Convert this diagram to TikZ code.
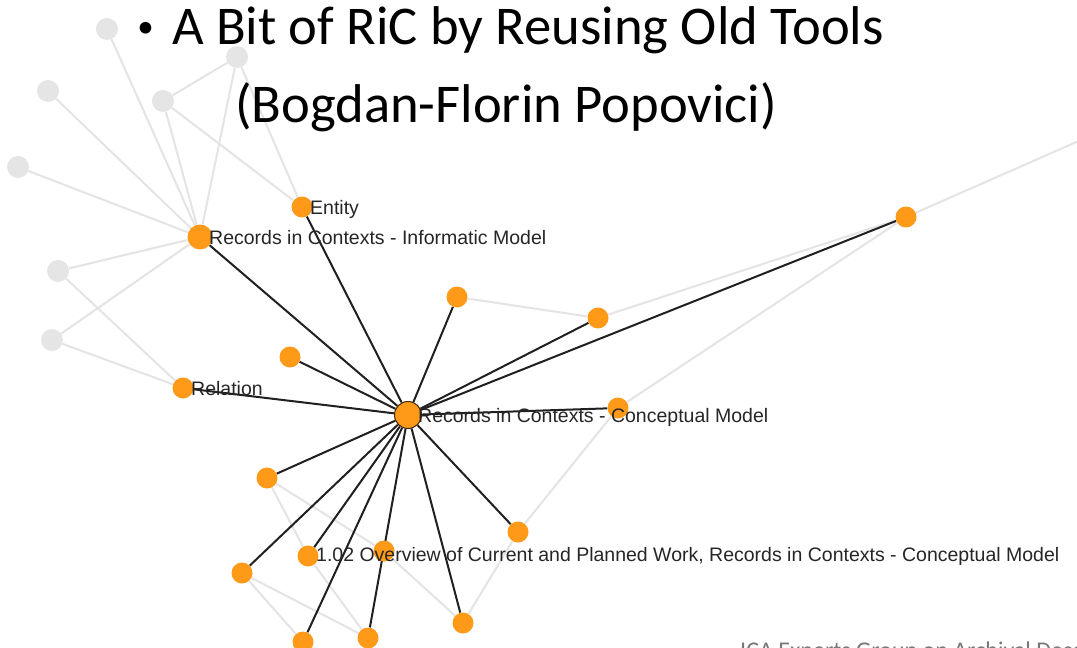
\documentclass[tikz,border=0pt]{standalone}
\usepackage{fontspec}
\setmainfont{Liberation Sans}
\newfontfamily\slidefont{Carlito}
\usetikzlibrary{positioning}

\definecolor{nodeorange}{RGB}{255,153,24}
\definecolor{ghostgrey}{RGB}{229,229,229}
\definecolor{tiegrey}{RGB}{228,228,228}
\definecolor{linkblack}{RGB}{32,32,32}
\definecolor{footgrey}{RGB}{120,120,120}

\pgfdeclarelayer{bg}
\pgfdeclarelayer{edges}
\pgfsetlayers{bg,edges,main}

\begin{document}
\begin{tikzpicture}[x=1pt, y=-1pt,
    doc/.style={circle, fill=nodeorange, inner sep=0pt, minimum size=21pt},
    ghost/.style={circle, fill=ghostgrey, inner sep=0pt, minimum size=22pt},
    tie/.style={draw=tiegrey, line width=2pt},
    link/.style={draw=linkblack, line width=2pt},
    lbl/.style={anchor=base west, inner sep=0pt, text=black!85, font=\fontsize{19.5}{22}\selectfont},
    slide/.style={inner sep=0pt, font=\slidefont\fontsize{54.6}{64}\selectfont}]
  \useasboundingbox (0,0) rectangle (1077,648);
  \begin{pgfonlayer}{bg}
    \fill[white] (0,0) rectangle (1077,648);
  \end{pgfonlayer}

  % Nodes
  \node (g1) [ghost] at (107,29) {};
  \node (g2) [ghost] at (237,57) {};
  \node (g3) [ghost] at (48,91) {};
  \node (g4) [ghost] at (163,101) {};
  \node (g5) [ghost] at (18,167) {};
  \node (g6) [ghost] at (58,271) {};
  \node (g7) [ghost] at (52,340) {};

  \node (informatic) [doc, minimum size=25pt] at (200,237) {};
  \node (entity) [doc] at (302,207) {};
  \node (relation) [doc] at (183,388) {};
  \node (n1) [doc] at (290,357) {};
  \node (n2) [doc] at (457,297) {};
  \node (n3) [doc] at (598,318) {};
  \node (n4) [doc] at (906,217) {};
  \node (n5) [doc] at (618,408) {};
  \node (n6) [doc] at (267,478) {};
  \node (n7) [doc] at (518,532) {};
  \node (n8) [doc] at (242,573) {};
  \node (overview) [doc] at (308,556) {};
  \node (n10) [doc] at (384,551) {};
  \node (n11) [doc] at (303,642) {};
  \node (n12) [doc] at (368,638) {};
  \node (n13) [doc] at (463,623) {};
  \node (conceptual) [doc, minimum size=27pt, draw=black!75!nodeorange, line width=1pt] at (408,415) {};
  \coordinate (away) at (1140,114);

  % Edges
  \begin{pgfonlayer}{edges}
    \foreach \g in {g1,g2,g3,g4,g5,g6,g7}
      \draw[tie] (\g) -- (informatic);
    \draw[tie] (g2) -- (g4);
    \draw[tie] (g2) -- (entity);
    \draw[tie] (g4) -- (entity);
    \draw[tie] (g6) -- (relation);
    \draw[tie] (g7) -- (relation);
    \draw[tie] (n2) -- (n3);
    \draw[tie] (n3) -- (n4);
    \draw[tie] (n4) -- (away);
    \draw[tie] (n4) -- (n5);
    \draw[tie] (n5) -- (n7);
    \draw[tie] (n7) -- (n13);
    \draw[tie] (n10) -- (n13);
    \draw[tie] (n6) -- (n10);
    \draw[tie] (n6) -- (overview);
    \draw[tie] (overview) -- (n12);
    \draw[tie] (n8) -- (n11);
    \draw[tie] (n8) -- (n12);

    \foreach \n in {informatic,entity,relation,n1,n2,n3,n4,n5,n6,n7,n8,overview,n11,n12,n13}
      \draw[link] (conceptual) -- (\n);
  \end{pgfonlayer}

  % Labels
  \node[lbl] (entitytext) at ([shift={(8,7)}]entity.center) {Entity};
  \node[lbl] (informatictext) at ([shift={(9,7)}]informatic.center) {Records in Contexts - Informatic Model};
  \node[lbl] (relationtext) at ([shift={(8,7)}]relation.center) {Relation};
  \node[lbl] (conceptualtext) at ([shift={(10,7)}]conceptual.center) {Records in Contexts - Conceptual Model};
  \node[lbl] (overviewtext) at ([shift={(8,5)}]overview.center) {1.02 Overview of Current and Planned Work, Records in Contexts - Conceptual Model};

  % Title
  \node[slide, anchor=base west] (title) at (172,44) {A Bit of RiC by Reusing Old Tools};
  \node[inner sep=0pt, anchor=base east, font=\slidefont\fontsize{33}{40}\selectfont] (bullet) at (154,37) {•};
  \node[slide, anchor=base west] (author) at (235,122) {(Bogdan-Florin Popovici)};
  \node[anchor=base west, inner sep=0pt, text=footgrey, font=\slidefont\fontsize{24}{28}\selectfont] (footer) at (740,658) {ICA Experts Group on Archival Description};
\end{tikzpicture}
\end{document}
